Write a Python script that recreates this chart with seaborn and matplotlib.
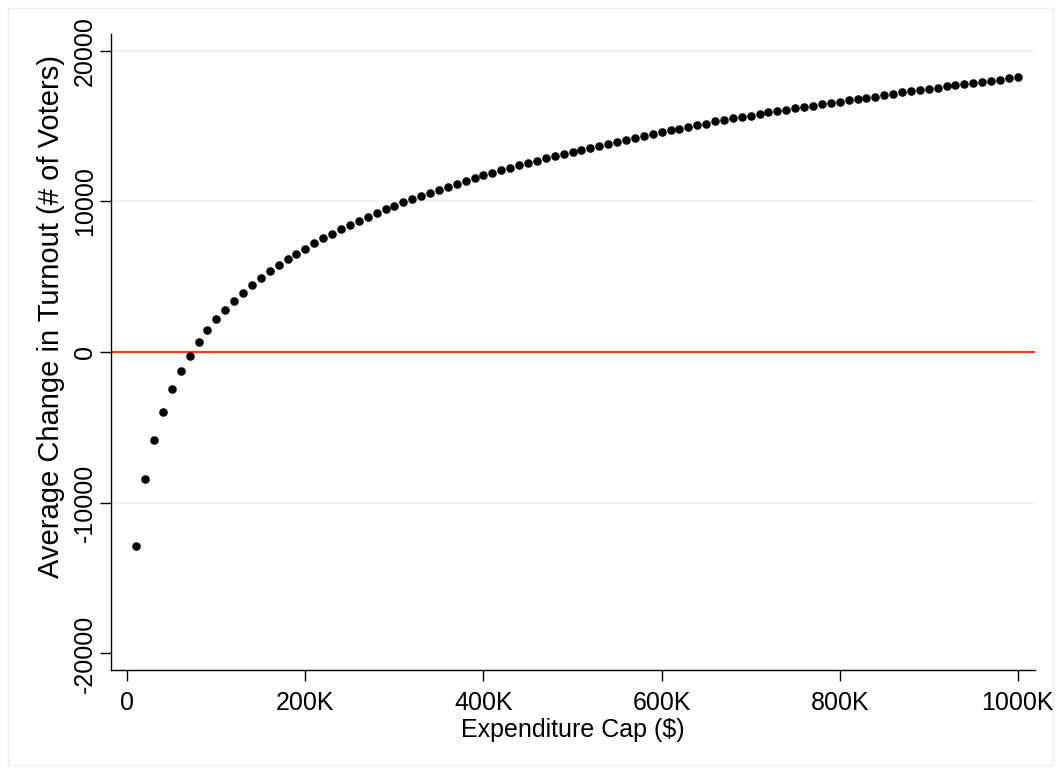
import matplotlib
matplotlib.use("Agg")
import matplotlib.pyplot as plt
from matplotlib.patches import Rectangle
import seaborn as sns
import pandas as pd

# Expenditure caps ($), 10K steps
expenditure_cap = list(range(10000, 1000001, 10000))

# Average change in turnout (# of voters)
turnout_change = [
    -12840, -8450, -5820, -3960, -2480, -1280, -250, 640, 1440, 2170,
    2810, 3410, 3940, 4470, 4910, 5360, 5780, 6160, 6530, 6860,
    7220, 7550, 7840, 8150, 8430, 8700, 8960, 9200, 9480, 9700,
    9940, 10140, 10360, 10560, 10780, 10960, 11160, 11340, 11530, 11730,
    11910, 12060, 12240, 12400, 12530, 12700, 12860, 13010, 13150, 13300,
    13430, 13550, 13680, 13830, 13960, 14100, 14210, 14320, 14460, 14600,
    14710, 14830, 14940, 15070, 15160, 15310, 15420, 15520, 15620, 15690,
    15800, 15910, 16000, 16090, 16160, 16270, 16350, 16450, 16530, 16620,
    16690, 16780, 16870, 16950, 17040, 17130, 17220, 17310, 17400, 17460,
    17550, 17640, 17710, 17780, 17840, 17930, 18010, 18060, 18150, 18240,
]

x_ticks = [0, 200000, 400000, 600000, 800000, 1000000]
x_tick_labels = ["0", "200K", "400K", "600K", "800K", "1000K"]
y_ticks = [-20000, -10000, 0, 10000, 20000]
y_tick_labels = ["-20000", "-10000", "0", "10000", "20000"]
grid_levels = [-10000, 10000, 20000]

df = pd.DataFrame({"cap": expenditure_cap, "turnout": turnout_change})

sns.set_style("white")
plt.rcParams["font.family"] = ["Liberation Sans", "DejaVu Sans"]
plt.rcParams["text.color"] = "black"
plt.rcParams["axes.labelcolor"] = "black"
plt.rcParams["xtick.color"] = "black"
plt.rcParams["ytick.color"] = "black"

fig = plt.figure(figsize=(10.61, 7.73), dpi=100)
fig.patch.set_facecolor("white")
ax = fig.add_axes([0.1046, 0.1332, 0.8709, 0.8228])

for g in grid_levels:
    ax.axhline(g, color="#EAF2F3", lw=1.2, zorder=0)
ax.axhline(0, color="#FF3A18", lw=1.6, zorder=1)

sns.scatterplot(data=df, x="cap", y="turnout", ax=ax, color="black",
                s=38, linewidth=0, zorder=3)

ax.set_xlim(-18300, 1019300)
ax.set_ylim(-21100, 21100)
ax.set_xticks(x_ticks)
ax.set_xticklabels(x_tick_labels)
ax.set_yticks(y_ticks)
ax.set_yticklabels(y_tick_labels, rotation=90, va="center")
ax.tick_params(axis="both", direction="out", length=8, width=1,
               color="black", labelcolor="black", labelsize=18,
               left=True, bottom=True)
ax.tick_params(axis="x", pad=7)
ax.tick_params(axis="y", pad=2)
ax.set_xlabel("Expenditure Cap ($)", fontsize=18, labelpad=2, color="black")
ax.set_ylabel("")

fig.text(51 / 1061, (773 - 316) / 773, "Average Change in Turnout (# of Voters)",
         rotation=90, ha="center", va="center", fontsize=21, color="black")

for side in ["top", "right"]:
    ax.spines[side].set_visible(False)
for side in ["left", "bottom"]:
    ax.spines[side].set_color("black")
    ax.spines[side].set_linewidth(1.0)

fig.patches.append(Rectangle((8 / 1061, 8 / 773), 1045 / 1061, 757 / 773,
                             transform=fig.transFigure, fill=False,
                             edgecolor="#EAF2F3", lw=1.0, zorder=0))

fig.savefig("out.png", dpi=100, facecolor="white")
